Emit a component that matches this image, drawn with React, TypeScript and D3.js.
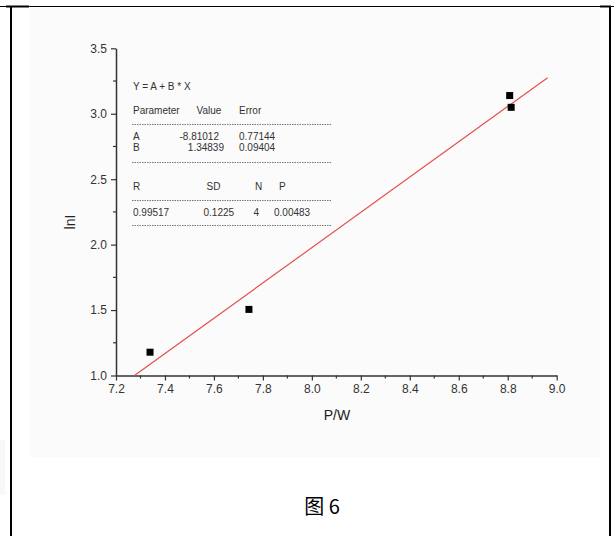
import { useEffect, useRef } from 'react';
import * as d3 from 'd3';

// measured points (P/W, lnI)
const pw = [7.339, 7.743, 8.808, 8.814];
const lnI = [1.178, 1.505, 3.139, 3.049];

// linear fit parameters
const fitA = -8.81012;
const fitB = 1.34839;
const fitEndX = 8.963;

const xTicks = [7.2, 7.4, 7.6, 7.8, 8.0, 8.2, 8.4, 8.6, 8.8, 9.0];
const yTicks = [1.0, 1.5, 2.0, 2.5, 3.0, 3.5];

const statsHeader = ['Parameter', 'Value', 'Error'];
const statsRowA = ['A', '-8.81012', '0.77144'];
const statsRowB = ['B', '1.34839', '0.09404'];
const statsRHeader = ['R', 'SD', 'N', 'P'];
const statsRValues = ['0.99517', '0.1225', '4', '0.00483'];

const W = 614;
const H = 536;
const FONT = "'Liberation Sans', Arial, sans-serif";

export default function App() {
  const svgRef = useRef<SVGSVGElement>(null);

  useEffect(() => {
    if (!svgRef.current) return;
    const svg = d3.select(svgRef.current);
    svg.selectAll('*').remove();

    // table cell frame
    svg.append('rect').attr('x', 0).attr('y', 0).attr('width', W).attr('height', H).attr('fill', '#fff');
    svg.append('rect').attr('x', 0).attr('y', 440).attr('width', 5).attr('height', 55).attr('fill', '#f8f8f8');
    svg.append('line').attr('x1', 0).attr('x2', W).attr('y1', 6.5).attr('y2', 6.5)
      .attr('stroke', '#000').attr('stroke-width', 1);
    svg.append('line').attr('x1', 6).attr('x2', 29).attr('y1', 6.5).attr('y2', 6.5)
      .attr('stroke', '#000').attr('stroke-width', 2);
    svg.append('line').attr('x1', 600).attr('x2', 611).attr('y1', 6.5).attr('y2', 6.5)
      .attr('stroke', '#000').attr('stroke-width', 2);
    [11, 610].forEach((x) => {
      svg.append('line').attr('x1', x).attr('x2', x).attr('y1', 6).attr('y2', H)
        .attr('stroke', '#000').attr('stroke-width', 2);
    });

    // pasted plot background
    svg.append('rect').attr('x', 29).attr('y', 8).attr('width', 571).attr('height', 449)
      .attr('fill', '#fbfbfb');

    const x = d3.scaleLinear().domain([7.2, 9.0]).range([116, 556.7]);
    const y = d3.scaleLinear().domain([1.0, 3.5]).range([375.5, 48.3]);

    const xAxis = d3.axisBottom(x)
      .tickValues(xTicks)
      .tickSize(5)
      .tickSizeOuter(0)
      .tickPadding(4)
      .tickFormat((d) => d3.format('.1f')(Number(d)));

    const yAxis = d3.axisLeft(y)
      .tickValues(yTicks)
      .tickSize(5)
      .tickSizeOuter(0)
      .tickPadding(4)
      .tickFormat((d) => d3.format('.1f')(Number(d)));

    const styleAxis = (g: d3.Selection<SVGGElement, unknown, null, undefined>) => {
      g.select('.domain').attr('stroke', '#333').attr('stroke-width', 1.5);
      g.selectAll('.tick line').attr('stroke', '#333').attr('stroke-width', 1.2);
      g.selectAll('.tick text')
        .attr('fill', '#333')
        .attr('font-size', 12)
        .attr('font-family', FONT);
    };

    // minor ticks
    const minorX = d3.range(7.3, 9.0, 0.2);
    svg.append('g').selectAll('line').data(minorX).join('line')
      .attr('x1', (d) => x(d)).attr('x2', (d) => x(d))
      .attr('y1', y(1.0)).attr('y2', y(1.0) + 3)
      .attr('stroke', '#333').attr('stroke-width', 1.2);
    const minorY = d3.range(1.25, 3.5, 0.5);
    svg.append('g').selectAll('line').data(minorY).join('line')
      .attr('x1', x(7.2)).attr('x2', x(7.2) - 3)
      .attr('y1', (d) => y(d)).attr('y2', (d) => y(d))
      .attr('stroke', '#333').attr('stroke-width', 1.2);

    svg.append('g')
      .attr('transform', `translate(0,${y(1.0)})`)
      .call(xAxis)
      .call(styleAxis);

    svg.append('g')
      .attr('transform', `translate(${x(7.2)},0)`)
      .call(yAxis)
      .call(styleAxis);

    // axis titles
    svg.append('text')
      .attr('x', 337).attr('y', 420)
      .attr('text-anchor', 'middle')
      .attr('font-size', 14).attr('font-family', FONT).attr('fill', '#222')
      .text('P/W');
    svg.append('text')
      .attr('transform', 'translate(75,222) rotate(-90)')
      .attr('text-anchor', 'middle')
      .attr('font-size', 14).attr('font-family', FONT).attr('fill', '#222')
      .text('lnI');

    // fit line
    const x0 = (1.0 - fitA) / fitB;
    svg.append('line')
      .attr('x1', x(x0)).attr('y1', y(fitA + fitB * x0))
      .attr('x2', x(fitEndX)).attr('y2', y(fitA + fitB * fitEndX))
      .attr('stroke', '#e4504b').attr('stroke-width', 1.2);

    // data squares
    const s = 7;
    svg.append('g').selectAll('rect').data(pw.map((v, i) => [v, lnI[i]]))
      .join('rect')
      .attr('x', (d) => x(d[0]) - s / 2)
      .attr('y', (d) => y(d[1]) - s / 2)
      .attr('width', s).attr('height', s)
      .attr('fill', '#000');

    // stats box
    const stats = svg.append('g')
      .attr('font-family', FONT).attr('font-size', 10).attr('fill', '#333');
    const addText = (tx: number, ty: number, t: string, anchor = 'start') =>
      stats.append('text').attr('x', tx).attr('y', ty).attr('text-anchor', anchor).text(t);
    const dash = (ly: number) =>
      stats.append('line').attr('x1', 132).attr('x2', 331).attr('y1', ly).attr('y2', ly)
        .attr('stroke', '#666').attr('stroke-width', 0.9).attr('stroke-dasharray', '1.5,1');

    addText(133, 89.5, 'Y = A + B * X');
    [133, 196.5, 239].forEach((tx, i) => addText(tx, 114, statsHeader[i]));
    dash(124.5);
    addText(133, 140, statsRowA[0]);
    addText(219, 140, statsRowA[1], 'end');
    addText(239, 140, statsRowA[2]);
    addText(133, 150.5, statsRowB[0]);
    addText(224, 150.5, statsRowB[1], 'end');
    addText(239, 150.5, statsRowB[2]);
    dash(162.5);
    [133, 206.5, 255, 279].forEach((tx, i) => addText(tx, 190, statsRHeader[i]));
    dash(200.5);
    [133, 203.5, 253.5, 274].forEach((tx, i) => addText(tx, 215.5, statsRValues[i]));
    dash(225.5);

    // caption
    svg.append('text')
      .attr('x', 322).attr('y', 514)
      .attr('text-anchor', 'middle')
      .attr('font-size', 20)
      .attr('font-family', "'Noto Sans CJK SC', sans-serif")
      .attr('fill', '#000')
      .text('图 6');
  }, []);

  return (
    <div style={{ position: 'absolute', left: 0, top: 0 }}>
      <svg ref={svgRef} width={W} height={H} style={{ display: 'block' }} />
    </div>
  );
}
